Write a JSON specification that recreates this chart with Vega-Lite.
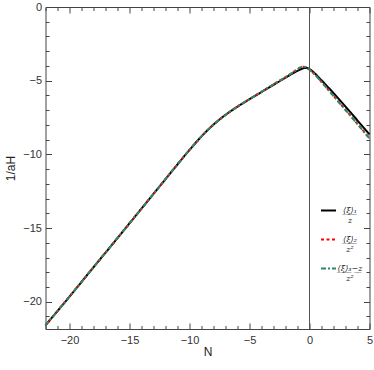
{
  "$schema": "https://vega.github.io/schema/vega-lite/v6.json",
  "width": 324,
  "height": 322,
  "autosize": {"type": "none"},
  "padding": {"left": 45.5, "top": 7, "right": 4.5, "bottom": 41},
  "config": {
    "view": {"stroke": null},
    "font": "Liberation Sans",
    "axis": {
      "grid": false,
      "domainColor": "#444",
      "tickColor": "#444",
      "labelColor": "#333",
      "labelFont": "Liberation Sans",
      "labelFontSize": 11,
      "titleFont": "Liberation Sans",
      "titleFontSize": 12,
      "titleFontWeight": "normal",
      "titleColor": "#222",
      "labelFlush": false
    }
  },
  "data": {
    "values": [
      {"N": -22, "v": -21.6, "s": "a"},
      {"N": -20, "v": -19.65, "s": "a"},
      {"N": -18, "v": -17.66, "s": "a"},
      {"N": -16, "v": -15.68, "s": "a"},
      {"N": -14, "v": -13.68, "s": "a"},
      {"N": -12, "v": -11.68, "s": "a"},
      {"N": -11, "v": -10.68, "s": "a"},
      {"N": -10, "v": -9.7, "s": "a"},
      {"N": -9, "v": -8.78, "s": "a"},
      {"N": -8, "v": -7.98, "s": "a"},
      {"N": -7, "v": -7.32, "s": "a"},
      {"N": -6, "v": -6.76, "s": "a"},
      {"N": -5, "v": -6.26, "s": "a"},
      {"N": -4, "v": -5.77, "s": "a"},
      {"N": -3, "v": -5.28, "s": "a"},
      {"N": -2, "v": -4.8, "s": "a"},
      {"N": -1.5, "v": -4.55, "s": "a"},
      {"N": -1, "v": -4.33, "s": "a"},
      {"N": -0.5, "v": -4.16, "s": "a"},
      {"N": -0.25, "v": -4.13, "s": "a"},
      {"N": 0, "v": -4.22, "s": "a"},
      {"N": 0.25, "v": -4.36, "s": "a"},
      {"N": 0.5, "v": -4.55, "s": "a"},
      {"N": 1, "v": -4.97, "s": "a"},
      {"N": 1.5, "v": -5.4, "s": "a"},
      {"N": 2, "v": -5.84, "s": "a"},
      {"N": 3, "v": -6.76, "s": "a"},
      {"N": 4, "v": -7.7, "s": "a"},
      {"N": 5, "v": -8.65, "s": "a"},

      {"N": -22, "v": -21.6, "s": "b"},
      {"N": -20, "v": -19.65, "s": "b"},
      {"N": -18, "v": -17.66, "s": "b"},
      {"N": -16, "v": -15.68, "s": "b"},
      {"N": -14, "v": -13.68, "s": "b"},
      {"N": -12, "v": -11.68, "s": "b"},
      {"N": -11, "v": -10.68, "s": "b"},
      {"N": -10, "v": -9.7, "s": "b"},
      {"N": -9, "v": -8.78, "s": "b"},
      {"N": -8, "v": -7.98, "s": "b"},
      {"N": -7, "v": -7.32, "s": "b"},
      {"N": -6, "v": -6.76, "s": "b"},
      {"N": -5, "v": -6.25, "s": "b"},
      {"N": -4, "v": -5.75, "s": "b"},
      {"N": -3, "v": -5.25, "s": "b"},
      {"N": -2, "v": -4.76, "s": "b"},
      {"N": -1.5, "v": -4.5, "s": "b"},
      {"N": -1, "v": -4.22, "s": "b"},
      {"N": -0.6, "v": -4.05, "s": "b"},
      {"N": -0.3, "v": -4.08, "s": "b"},
      {"N": 0, "v": -4.25, "s": "b"},
      {"N": 0.25, "v": -4.42, "s": "b"},
      {"N": 0.5, "v": -4.62, "s": "b"},
      {"N": 1, "v": -5.08, "s": "b"},
      {"N": 1.5, "v": -5.55, "s": "b"},
      {"N": 2, "v": -6.02, "s": "b"},
      {"N": 3, "v": -6.97, "s": "b"},
      {"N": 4, "v": -7.93, "s": "b"},
      {"N": 5, "v": -8.9, "s": "b"},

      {"N": -22, "v": -21.6, "s": "c"},
      {"N": -20, "v": -19.65, "s": "c"},
      {"N": -18, "v": -17.66, "s": "c"},
      {"N": -16, "v": -15.68, "s": "c"},
      {"N": -14, "v": -13.68, "s": "c"},
      {"N": -12, "v": -11.68, "s": "c"},
      {"N": -11, "v": -10.68, "s": "c"},
      {"N": -10, "v": -9.7, "s": "c"},
      {"N": -9, "v": -8.78, "s": "c"},
      {"N": -8, "v": -7.98, "s": "c"},
      {"N": -7, "v": -7.32, "s": "c"},
      {"N": -6, "v": -6.76, "s": "c"},
      {"N": -5, "v": -6.25, "s": "c"},
      {"N": -4, "v": -5.75, "s": "c"},
      {"N": -3, "v": -5.25, "s": "c"},
      {"N": -2, "v": -4.76, "s": "c"},
      {"N": -1.5, "v": -4.5, "s": "c"},
      {"N": -1, "v": -4.22, "s": "c"},
      {"N": -0.6, "v": -4.05, "s": "c"},
      {"N": -0.3, "v": -4.08, "s": "c"},
      {"N": 0, "v": -4.26, "s": "c"},
      {"N": 0.25, "v": -4.43, "s": "c"},
      {"N": 0.5, "v": -4.63, "s": "c"},
      {"N": 1, "v": -5.1, "s": "c"},
      {"N": 1.5, "v": -5.57, "s": "c"},
      {"N": 2, "v": -6.04, "s": "c"},
      {"N": 3, "v": -6.99, "s": "c"},
      {"N": 4, "v": -7.95, "s": "c"},
      {"N": 5, "v": -8.93, "s": "c"}
    ]
  },
  "resolve": {"axis": {"x": "independent", "y": "independent"}},
  "layer": [
    {
      "data": {"values": [{"N": 0}]},
      "mark": {"type": "rule", "color": "#555", "strokeWidth": 1},
      "encoding": {
        "x": {"field": "N", "type": "quantitative", "scale": {"domain": [-22, 5], "nice": false, "zero": false}, "axis": null}
      }
    },
    {
      "mark": {"type": "line", "strokeWidth": 2, "interpolate": "monotone"},
      "encoding": {
        "x": {"field": "N", "type": "quantitative", "scale": {"domain": [-22, 5], "nice": false, "zero": false},
              "axis": {"orient": "bottom", "values": [-20, -15, -10, -5, 0, 5], "tickSize": -6, "labelPadding": 11, "title": "N", "titlePadding": 1}},
        "y": {"field": "v", "type": "quantitative", "scale": {"domain": [-21.85, 0], "nice": false, "zero": false},
              "axis": {"orient": "left", "values": [0, -5, -10, -15, -20], "tickSize": -6, "labelPadding": 10, "title": "1/aH", "titlePadding": 5}},
        "color": {"field": "s", "type": "nominal",
                  "scale": {"domain": ["a", "b", "c"], "range": ["#000000", "#ff0000", "#2b8a6e"]},
                  "legend": {"orient": "none", "legendX": 274.5, "legendY": 195, "title": null, "padding": 0,
                             "symbolType": "stroke", "symbolSize": 225, "symbolStrokeWidth": 2,
                             "labelFont": "DejaVu Serif", "labelFontSize": 8, "labelFontStyle": "italic", "labelColor": "#222",
                             "labelAlign": "center", "labelOffset": 13, "rowPadding": 6,
                             "labelExpr": "datum.value == 'a' ? ['⟨̲ξ̲⟩̲₁̲', 'z'] : datum.value == 'b' ? ['⟨̲ξ̲⟩̲₂̲', 'z²'] : ['⟨̲ξ̲⟩̲₃̲−̲z̲', 'z²']"}},
        "strokeDash": {"field": "s", "type": "nominal",
                  "scale": {"domain": ["a", "b", "c"], "range": [[1, 0], [3, 2.5], [5, 2, 2, 2]]},
                  "legend": {"orient": "none", "legendX": 274.5, "legendY": 195, "title": null, "padding": 0,
                             "symbolType": "stroke", "symbolSize": 225, "symbolStrokeWidth": 2,
                             "labelFont": "DejaVu Serif", "labelFontSize": 8, "labelFontStyle": "italic", "labelColor": "#222",
                             "labelAlign": "center", "labelOffset": 13, "rowPadding": 6,
                             "labelExpr": "datum.value == 'a' ? ['⟨̲ξ̲⟩̲₁̲', 'z'] : datum.value == 'b' ? ['⟨̲ξ̲⟩̲₂̲', 'z²'] : ['⟨̲ξ̲⟩̲₃̲−̲z̲', 'z²']"}}
      }
    },
    {
      "mark": {"type": "line", "opacity": 0},
      "encoding": {
        "x": {"field": "N", "type": "quantitative", "scale": {"domain": [-22, 5], "nice": false, "zero": false},
              "axis": {"orient": "top", "values": [-20, -15, -10, -5, 0, 5], "tickSize": -6, "labels": false, "title": null}},
        "y": {"field": "v", "type": "quantitative", "scale": {"domain": [-21.85, 0], "nice": false, "zero": false},
              "axis": {"orient": "right", "values": [0, -5, -10, -15, -20], "tickSize": -6, "labels": false, "title": null}},
        "detail": {"field": "s"}
      }
    },
    {
      "mark": {"type": "line", "opacity": 0},
      "encoding": {
        "x": {"field": "N", "type": "quantitative", "scale": {"domain": [-22, 5], "nice": false, "zero": false},
              "axis": {"orient": "bottom", "values": [-22, -21, -19, -18, -17, -16, -14, -13, -12, -11, -9, -8, -7, -6, -4, -3, -2, -1, 1, 2, 3, 4], "tickSize": -3.5, "labels": false, "domain": false, "title": null}},
        "y": {"field": "v", "type": "quantitative", "scale": {"domain": [-21.85, 0], "nice": false, "zero": false},
              "axis": {"orient": "left", "values": [-1, -2, -3, -4, -6, -7, -8, -9, -11, -12, -13, -14, -16, -17, -18, -19, -21], "tickSize": -3.5, "labels": false, "domain": false, "title": null}},
        "detail": {"field": "s"}
      }
    },
    {
      "mark": {"type": "line", "opacity": 0},
      "encoding": {
        "x": {"field": "N", "type": "quantitative", "scale": {"domain": [-22, 5], "nice": false, "zero": false},
              "axis": {"orient": "top", "values": [-22, -21, -19, -18, -17, -16, -14, -13, -12, -11, -9, -8, -7, -6, -4, -3, -2, -1, 1, 2, 3, 4], "tickSize": -3.5, "labels": false, "domain": false, "title": null}},
        "y": {"field": "v", "type": "quantitative", "scale": {"domain": [-21.85, 0], "nice": false, "zero": false},
              "axis": {"orient": "right", "values": [-1, -2, -3, -4, -6, -7, -8, -9, -11, -12, -13, -14, -16, -17, -18, -19, -21], "tickSize": -3.5, "labels": false, "domain": false, "title": null}},
        "detail": {"field": "s"}
      }
    }
  ]
}
